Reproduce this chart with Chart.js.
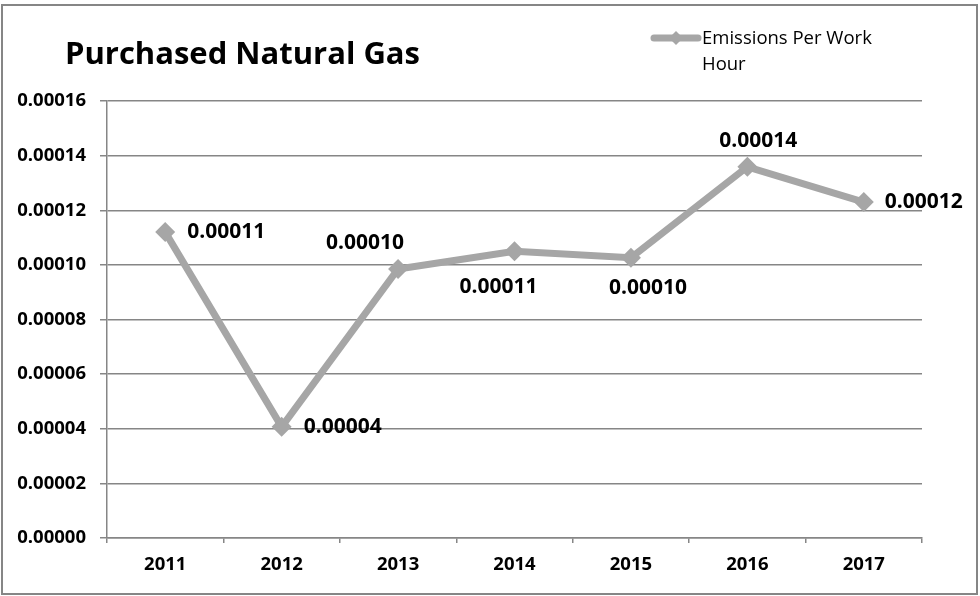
<!DOCTYPE html>
<html>
<head>
<meta charset="utf-8">
<script src="https://cdn.jsdelivr.net/npm/chart.js@4/dist/chart.umd.min.js"></script>
<style>
  html, body { margin: 0; padding: 0; background: #fff; }
  #wrap { width: 980px; height: 596px; position: relative; }
</style>
</head>
<body>
<div id="wrap"><canvas id="gasChart" width="980" height="596"></canvas></div>
<script>
// chart data
const years = ['2011', '2012', '2013', '2014', '2015', '2016', '2017'];
const emissionsPerHour = [0.000112, 0.0000407, 0.0000985, 0.000105, 0.0001026, 0.0001359, 0.000123];
const yTicks = [0, 0.00002, 0.00004, 0.00006, 0.00008, 0.0001, 0.00012, 0.00014, 0.00016];

const titleText = 'Purchased Natural Gas';
const seriesName = ['Emissions Per Work', 'Hour'];

const lineGrey = '#a6a6a6';
const gridGrey = '#868686';
const fontFam = '"Open Sans", "Liberation Sans", sans-serif';

// label placement next to each point: [dx, dy, align]
const labelPlace = [
  [22, 0, 'left'], [22, 0, 'left'], [-33, -26, 'center'], [-16, 36, 'center'],
  [17, 30, 'center'], [11, -26, 'center'], [21, 0, 'left']
];

const decorPlugin = {
  id: 'decor',
  beforeDraw(chart) {
    const c = chart.ctx;
    c.save();
    c.fillStyle = '#fff';
    c.fillRect(0, 0, chart.width, chart.height);
    c.strokeStyle = gridGrey;
    c.lineWidth = 2;
    c.strokeRect(2, 5, 975, 589);
    c.restore();
  },
  afterDatasetsDraw(chart) {
    const c = chart.ctx;
    const pts = chart.getDatasetMeta(0).data;
    c.save();
    c.fillStyle = '#000';
    c.font = 'bold 21px ' + fontFam;
    c.textBaseline = 'middle';
    pts.forEach((p, i) => {
      const pl = labelPlace[i];
      c.textAlign = pl[2];
      c.fillText(emissionsPerHour[i].toFixed(5), p.x + pl[0], p.y + pl[1]);
    });
    c.restore();
  },
  afterDraw(chart) {
    const c = chart.ctx;
    c.save();
    // title
    c.fillStyle = '#000';
    c.font = 'bold 31px ' + fontFam;
    c.textAlign = 'left';
    c.textBaseline = 'alphabetic';
    c.fillText(titleText, 65, 64);
    // legend
    c.strokeStyle = lineGrey;
    c.lineWidth = 7;
    c.lineCap = 'round';
    c.beginPath();
    c.moveTo(654, 38);
    c.lineTo(698, 38);
    c.stroke();
    c.fillStyle = lineGrey;
    c.beginPath();
    c.moveTo(676, 31); c.lineTo(683, 38); c.lineTo(676, 45); c.lineTo(669, 38);
    c.closePath();
    c.fill();
    c.fillStyle = '#000';
    c.font = '18.5px ' + fontFam;
    c.textBaseline = 'middle';
    c.fillText(seriesName[0], 702, 39);
    c.fillText(seriesName[1], 702, 65);
    c.restore();
  }
};

const ctx = document.getElementById('gasChart').getContext('2d');
const gasChart = new Chart(ctx, {
  type: 'line',
  data: {
    labels: years,
    datasets: [{
      label: seriesName.join(' '),
      data: emissionsPerHour,
      borderColor: lineGrey,
      backgroundColor: lineGrey,
      borderWidth: 7,
      pointStyle: 'rectRot',
      pointRadius: 10,
      pointHoverRadius: 10,
      pointBorderWidth: 0,
      tension: 0
    }]
  },
  options: {
    responsive: false,
    animation: false,
    layout: { padding: { top: 101, right: 58, left: 0, bottom: 0 } },
    plugins: {
      legend: { display: false },
      title: { display: false },
      tooltip: { enabled: false }
    },
    scales: {
      x: {
        offset: true,
        grid: { display: true, drawOnChartArea: false, offset: true, tickLength: 5, color: gridGrey, lineWidth: 1.5 },
        border: { color: gridGrey, width: 1.5 },
        ticks: { color: '#000', font: { family: fontFam, size: 18.5, weight: 'bold' }, padding: 11, maxRotation: 0 },
        afterFit(scale) { scale.height = 58; }
      },
      y: {
        min: 0,
        max: 0.00016,
        afterBuildTicks(scale) { scale.ticks = yTicks.map(v => ({ value: v })); },
        grid: { color: gridGrey, lineWidth: 1.5, tickLength: 7 },
        border: { color: gridGrey, width: 1.5 },
        ticks: {
          color: '#000',
          font: { family: fontFam, size: 18.5, weight: 'bold' },
          padding: 14,
          callback: v => Number(v).toFixed(5)
        },
        afterFit(scale) { scale.width = 107; }
      }
    }
  },
  plugins: [decorPlugin]
});
</script>
</body>
</html>
